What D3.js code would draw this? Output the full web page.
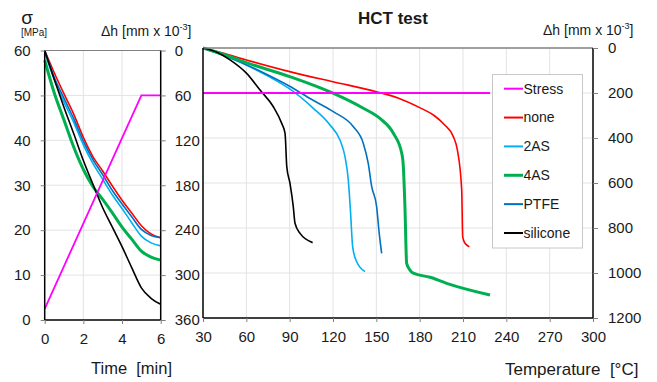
<!DOCTYPE html>
<html>
<head>
<meta charset="utf-8">
<script src="https://cdn.jsdelivr.net/npm/d3@7"></script>
<style>
  body { margin: 0; background: #fff; }
  svg { display: block; font-family: "Liberation Sans", Arial, sans-serif; }
</style>
</head>
<body>
<svg id="chart" width="657" height="382"></svg>
<script>
// ---- left panel: time phase ----
const timeMin = [0, 0.5, 1, 1.5, 2, 2.5, 3, 3.5, 4, 4.5, 5, 5.5, 6];
const dhNoneT = [0, 30, 58, 85, 116, 142, 161, 181, 200, 217, 234, 245, 250];
const dh2AST = [3, 39, 69, 96, 126, 151, 172, 193, 211, 230, 248, 257, 261];
const dh4AST = [13, 57, 93, 129, 159, 182, 199, 217, 236, 252, 268, 276, 280];
const dhPtfeT = [0, 36, 64, 91, 121, 146, 166, 187, 205, 222, 239, 247, 250];
const dhSiliconeT = [0, 39, 76, 111, 147, 179, 210, 236, 262, 290, 317, 331, 339];
const stressTime = [0, 5, 6];
const stressValT = [2.5, 50, 50];

// ---- right panel: temperature phase ----
const noneTemp = [30, 45, 60, 90, 120, 150, 165, 180, 190, 197, 203.3, 206.1, 209.1, 209.8, 211.4, 214.4];
const noneDh = [0, 25, 53, 105, 150, 194, 222, 265, 300, 340, 394, 453, 631, 839, 868, 883];
const as2Temp = [30, 45, 60, 75, 90, 106.4, 117.9, 124.8, 128.3, 130.6, 132.2, 133.6, 136.4, 142.2];
const as2Dh = [0, 35, 76, 125, 182, 268, 342, 409, 483, 587, 735, 883, 950, 994];
const as4Temp = [30, 45, 60, 90, 120, 141, 152.5, 161.8, 167.6, 168.7, 169.8, 171, 173.3, 175.6, 187.2, 198.7, 228.7];
const as4Dh = [0, 30, 65, 127, 201, 268, 313, 379, 468, 527, 705, 957, 987, 1001, 1019, 1046, 1098];
const ptfeTemp = [30, 45, 60, 75, 90, 105, 120.2, 134.1, 141, 144.4, 146.8, 150.2, 152, 153.7];
const ptfeDh = [0, 35, 74, 120, 170, 228, 283, 350, 424, 513, 616, 705, 824, 913];
const siliconeTemp = [30, 40, 48.7, 60.2, 69.5, 78.7, 84.5, 86.8, 88, 90.2, 92.5, 93.7, 97.2, 105.9];
const siliconeDh = [0, 20, 53, 113, 187, 261, 335, 379, 527, 601, 705, 779, 824, 865];
const stressTemp = [30, 228.7];
const stressValH = [50, 50];

const seriesNames = ["Stress", "none", "2AS", "4AS", "PTFE", "silicone"];
const seriesColors = ["#ff00ff", "#ff0000", "#00b0f0", "#00b050", "#0070c0", "#000000"];
const seriesWidths = [1.8, 1.6, 1.6, 3, 1.6, 1.6];

const sigmaTicks = [0, 10, 20, 30, 40, 50, 60];
const dhLeftTicks = [0, 60, 120, 180, 240, 300, 360];
const timeTicks = [0, 2, 4, 6];
const tempTicks = [30, 60, 90, 120, 150, 180, 210, 240, 270, 300];
const dhRightTicks = [0, 200, 400, 600, 800, 1000, 1200];

const svg = d3.select("#chart");
const gridCol = "#e3e3e3";
const txtCol = "#1a1a1a";
const fmt = d3.format("d");

// ---------- LEFT PANEL ----------
const L = { x0: 44.7, x1: 160.7, y0: 50.5, y1: 320 };
const xT = d3.scaleLinear().domain([0, 6]).range([L.x0, L.x1]);
const ySig = d3.scaleLinear().domain([0, 60]).range([L.y1, L.y0]);
const yDhL = d3.scaleLinear().domain([0, 360]).range([L.y0, L.y1]);

const gl = svg.append("g");
gl.selectAll("line.vg").data([2, 4]).join("line")
  .attr("x1", d => xT(d)).attr("x2", d => xT(d))
  .attr("y1", L.y0).attr("y2", L.y1).attr("stroke", gridCol);
gl.selectAll("line.hg").data([10, 20, 30, 40, 50]).join("line")
  .attr("x1", L.x0).attr("x2", L.x1)
  .attr("y1", d => ySig(d)).attr("y2", d => ySig(d)).attr("stroke", gridCol);

const lineL = (ys) => d3.line().x((d, i) => xT(timeMin[i])).y(d => yDhL(d)).curve(d3.curveMonotoneX)(ys);
const leftSets = [dhNoneT, dh2AST, dh4AST, dhPtfeT, dhSiliconeT];
[1, 2, 4, 3, 5].forEach(k => {
  gl.append("path").attr("d", lineL(leftSets[k - 1]))
    .attr("fill", "none").attr("stroke", seriesColors[k]).attr("stroke-width", seriesWidths[k]);
});
gl.append("path")
  .attr("d", d3.line().x((d, i) => xT(stressTime[i])).y(d => ySig(d))(stressValT))
  .attr("fill", "none").attr("stroke", seriesColors[0]).attr("stroke-width", seriesWidths[0]);

// frame
gl.append("line").attr("x1", L.x0).attr("x2", L.x1).attr("y1", L.y0).attr("y2", L.y0).attr("stroke", "#808080");
gl.append("line").attr("x1", L.x0).attr("x2", L.x0).attr("y1", L.y0).attr("y2", L.y1).attr("stroke", "#000").attr("stroke-width", 1.5);
gl.append("line").attr("x1", L.x1).attr("x2", L.x1).attr("y1", L.y0).attr("y2", L.y1).attr("stroke", "#000").attr("stroke-width", 1.5);
gl.append("line").attr("x1", L.x0).attr("x2", L.x1).attr("y1", L.y1).attr("y2", L.y1).attr("stroke", "#000").attr("stroke-width", 1.5);

function styleAxis(g) {
  g.select(".domain").remove();
  g.selectAll(".tick line").attr("stroke", "#808080");
  g.selectAll(".tick text").attr("fill", txtCol).attr("font-size", 15);
}

svg.append("g").attr("transform", `translate(${L.x0},0)`)
  .call(d3.axisLeft(ySig).tickValues(sigmaTicks).tickFormat(fmt).tickSize(4).tickPadding(10))
  .call(styleAxis);
svg.append("g").attr("transform", `translate(${L.x1},0)`)
  .call(d3.axisRight(yDhL).tickValues(dhLeftTicks).tickFormat(fmt).tickSize(5).tickPadding(9))
  .call(styleAxis);
svg.append("g").attr("transform", `translate(0,${L.y1})`)
  .call(d3.axisBottom(xT).tickValues(timeTicks).tickFormat(fmt).tickSize(4).tickPadding(9))
  .call(styleAxis);

// ---------- RIGHT PANEL ----------
const R = { x0: 203, x1: 593, y0: 48, y1: 318 };
const xC = d3.scaleLinear().domain([30, 300]).range([R.x0, R.x1]);
const yDhR = d3.scaleLinear().domain([0, 1200]).range([R.y0, R.y1]);
const ySigR = d3.scaleLinear().domain([0, 60]).range([R.y1, R.y0]);

const gr = svg.append("g");
gr.selectAll("line.vg").data(tempTicks.slice(1, -1)).join("line")
  .attr("x1", d => xC(d)).attr("x2", d => xC(d))
  .attr("y1", R.y0).attr("y2", R.y1).attr("stroke", gridCol);
gr.selectAll("line.hg").data(dhRightTicks.slice(1, -1)).join("line")
  .attr("x1", R.x0).attr("x2", R.x1)
  .attr("y1", d => yDhR(d)).attr("y2", d => yDhR(d)).attr("stroke", gridCol);

const rightSets = [
  [noneTemp, noneDh], [as2Temp, as2Dh], [as4Temp, as4Dh], [ptfeTemp, ptfeDh], [siliconeTemp, siliconeDh]
];
[1, 2, 4, 3, 5].forEach(k => {
  const [tx, dy] = rightSets[k - 1];
  gr.append("path")
    .attr("d", d3.line().x((d, i) => xC(tx[i])).y(d => yDhR(d)).curve(d3.curveMonotoneX)(dy))
    .attr("fill", "none").attr("stroke", seriesColors[k]).attr("stroke-width", seriesWidths[k])
    .attr("stroke-linejoin", "round");
});
gr.append("path")
  .attr("d", d3.line().x((d, i) => xC(stressTemp[i])).y(d => ySigR(d))(stressValH))
  .attr("fill", "none").attr("stroke", seriesColors[0]).attr("stroke-width", seriesWidths[0]);

gr.append("line").attr("x1", R.x0).attr("x2", R.x1).attr("y1", R.y0).attr("y2", R.y0).attr("stroke", "#808080").attr("stroke-width", 1.5);
gr.append("line").attr("x1", R.x0).attr("x2", R.x0).attr("y1", R.y0).attr("y2", R.y1).attr("stroke", "#000").attr("stroke-width", 1.5);
gr.append("line").attr("x1", R.x1).attr("x2", R.x1).attr("y1", R.y0).attr("y2", R.y1).attr("stroke", "#000").attr("stroke-width", 1.5);
gr.append("line").attr("x1", R.x0).attr("x2", R.x1).attr("y1", R.y1).attr("y2", R.y1).attr("stroke", "#000").attr("stroke-width", 1.5);

svg.append("g").attr("transform", `translate(${R.x1},0)`)
  .call(d3.axisRight(yDhR).tickValues(dhRightTicks).tickFormat(fmt).tickSize(5).tickPadding(10))
  .call(styleAxis);
svg.append("g").attr("transform", `translate(0,${R.y1})`)
  .call(d3.axisBottom(xC).tickValues(tempTicks).tickFormat(fmt).tickSize(4).tickPadding(9))
  .call(styleAxis);

// ---------- LEGEND ----------
const lg = svg.append("g");
lg.append("rect").attr("x", 492.5).attr("y", 74.5).attr("width", 90).attr("height", 173.5)
  .attr("fill", "#fff").attr("stroke", "#c8c8c8");
const legY = d3.scalePoint().domain(seriesNames).range([88.7, 233]);
seriesNames.forEach((n, i) => {
  lg.append("line").attr("x1", 504).attr("x2", 523).attr("y1", legY(n)).attr("y2", legY(n))
    .attr("stroke", seriesColors[i]).attr("stroke-width", i === 3 ? 3 : 2);
  lg.append("text").attr("x", 523.5).attr("y", legY(n)).attr("dy", "0.35em")
    .attr("font-size", 14).attr("fill", txtCol).text(n);
});

// ---------- TITLES ----------
svg.append("text").attr("x", 393).attr("y", 24).attr("text-anchor", "middle")
  .attr("font-size", 17).attr("font-weight", "bold").attr("fill", txtCol).text("HCT test");
svg.append("text").attr("x", 27).attr("y", 24).attr("text-anchor", "middle")
  .attr("font-size", 19).attr("fill", txtCol).text("σ");
svg.append("text").attr("x", 34).attr("y", 35.5).attr("text-anchor", "middle")
  .attr("font-size", 10).attr("fill", txtCol).text("[MPa]");

function dhLabel(x, y) {
  const t = svg.append("text").attr("x", x).attr("y", y).attr("font-size", 14).attr("fill", txtCol);
  t.append("tspan").text("Δh [mm x 10");
  t.append("tspan").attr("font-size", 9).attr("dy", -6).text("-3");
  t.append("tspan").attr("dy", 6).text("]");
}
dhLabel(101, 35.5);
dhLabel(543, 35);

svg.append("text").attr("x", 91).attr("y", 374).attr("font-size", 16.5).attr("fill", txtCol)
  .attr("xml:space", "preserve").text("Time  [min]");
svg.append("text").attr("x", 505).attr("y", 375).attr("font-size", 17).attr("fill", txtCol)
  .attr("xml:space", "preserve").text("Temperature  [°C]");
</script>
</body>
</html>
